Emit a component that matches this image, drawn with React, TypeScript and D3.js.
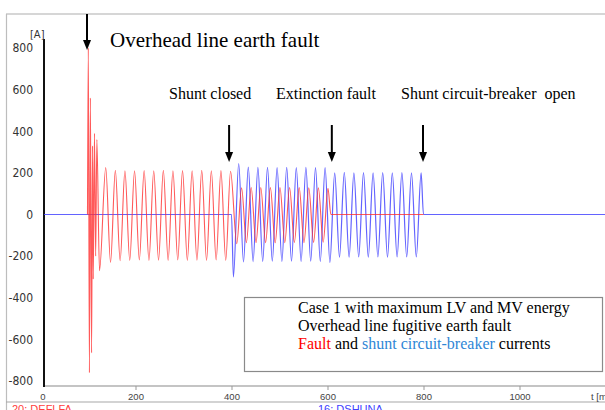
import React, { useEffect, useRef } from 'react';
import * as d3 from 'd3';

const WIDTH = 605;
const HEIGHT = 410;
const HALF_PERIOD = 10; // ms, 50 Hz network

const yTicks = [800, 600, 400, 200, 0, -200, -400, -600, -800];
const xTicks = [200, 400, 600, 800, 1000];

// Fault current (red): onset transient, read point by point [t ms, A]
const faultOnset: [number, number][] = [
  [100, 0], [101.7, 800], [104, -760], [106, 560], [108.5, -665], [110.5, 330],
  [112, -310], [114.5, 390], [117, -200], [119.5, 360], [125, -270],
];
// successive half-wave extrema, one every 10 ms
const faultStart = 138;
const faultExtrema = [
  225, -230, 212, -222, 210, -220, 210, -218, 211, -220, 210, -219, 212, -220,
  210, -218, 211, -220, 210, -219, 212, -220, 210, -218, 211, -220, 208,
];
const faultShuntStart = 411;
const faultShuntExtrema = [
  -140, 128, -135, 130, -136, 130, -135, 129, -136, 130,
  -135, 130, -134, 129, -135, 128, -134, 128, -133, 126,
];
const faultTail: [number, number][] = [[607, 0], [800, 0]];

// Shunt circuit-breaker current (blue)
const shuntOnset: [number, number][] = [[0, 0], [400, 0], [404, -300]];
const shuntStart = 415;
const shuntExtrema = [
  245, -228, 228, -226, 226, -225, 226, -224, 225, -225,
  226, -224, 225, -225, 226, -224, 225, -225, 225, -230,
];
const shuntFreeStart = 615;
const shuntFreeExtrema = [
  200, -205, 202, -205, 200, -204, 201, -205, 200, -204,
  201, -205, 200, -204, 201, -204, 200, -204, 200,
];
const shuntTail: [number, number][] = [[800, 0], [1200, 0]];

const events = [
  { t: 99, label: 'Overhead line earth fault' },
  { t: 395, label: 'Shunt closed' },
  { t: 609, label: 'Extinction fault' },
  { t: 799, label: 'Shunt circuit-breaker  open' },
];

const extrema = (start: number, vals: number[]): [number, number][] =>
  vals.map((v, i) => [start + i * HALF_PERIOD, v]);

const App: React.FC = () => {
  const svgRef = useRef<SVGSVGElement>(null);

  useEffect(() => {
    if (!svgRef.current) return;
    const svg = d3.select(svgRef.current);
    svg.selectAll('*').remove();

    const serif = '"Liberation Serif", "Times New Roman", serif';
    const narrow = '"Liberation Sans Narrow", "Arial Narrow", "DejaVu Sans Condensed", sans-serif';
    const sans = '"Liberation Sans", Arial, sans-serif';

    const x = d3.scaleLinear().domain([0, 1000]).range([39.5, 519.5]);
    const y = d3.scaleLinear().domain([-800, 800]).range([381, 48]);
    const x0 = 44;
    const yBottom = 386;

    svg.append('rect').attr('width', WIDTH).attr('height', HEIGHT).attr('fill', 'white');

    // outer frame of the recorder window
    svg.append('line').attr('x1', 6).attr('x2', WIDTH).attr('y1', 14).attr('y2', 14)
      .attr('stroke', '#c8c8c8').attr('stroke-width', 1.5);
    svg.append('line').attr('x1', 6.5).attr('x2', 6.5).attr('y1', 14).attr('y2', HEIGHT)
      .attr('stroke', '#bdbdbd').attr('stroke-width', 1.2);
    svg.append('line').attr('x1', 6).attr('x2', WIDTH).attr('y1', 402).attr('y2', 402)
      .attr('stroke', '#a8a8a8').attr('stroke-width', 1.2);

    // x axis
    svg.append('line').attr('x1', x0).attr('x2', WIDTH).attr('y1', yBottom).attr('y2', yBottom)
      .attr('stroke', '#8a8a8a').attr('stroke-width', 1.2);
    const xAxis = svg.append('g').attr('transform', `translate(0,${yBottom})`)
      .call(d3.axisBottom(x).tickValues(xTicks).tickFormat(d => String(d))
        .tickSize(4).tickSizeOuter(0).tickPadding(3));
    xAxis.select('.domain').remove();
    xAxis.selectAll('line').attr('stroke', '#999');
    xAxis.selectAll('text').attr('fill', '#444').style('font-family', sans).style('font-size', '9.5px');
    svg.append('text').attr('x', x0 - 1).attr('y', 400).attr('text-anchor', 'middle')
      .attr('fill', '#444').style('font-family', sans).style('font-size', '9.5px').text('0');
    svg.append('text').attr('x', 591).attr('y', 400).attr('fill', '#444')
      .style('font-family', sans).style('font-size', '9.5px').text('t [ms]');

    // y axis
    const yAxis = svg.append('g').attr('transform', `translate(${x0},0)`)
      .call(d3.axisLeft(y).tickValues(yTicks).tickFormat(d => String(d)).tickSize(0).tickPadding(11));
    yAxis.select('.domain').remove();
    yAxis.selectAll('text').attr('fill', '#333').style('font-family', narrow)
      .style('font-size', '12px');
    svg.append('line').attr('x1', x0).attr('x2', x0).attr('y1', 39).attr('y2', yBottom + 1)
      .attr('stroke', '#111').attr('stroke-width', 2);
    svg.append('text').attr('x', 30).attr('y', 38).attr('fill', '#333')
      .style('font-family', narrow).style('font-size', '11px').text('[A]');

    const line = d3.line<[number, number]>()
      .x(d => x(d[0])).y(d => y(d[1]))
      .curve(d3.curveMonotoneX);

    const shunt = [
      ...shuntOnset,
      ...extrema(shuntStart, shuntExtrema),
      ...extrema(shuntFreeStart, shuntFreeExtrema),
      ...shuntTail,
    ];
    const fault = [
      ...faultOnset,
      ...extrema(faultStart, faultExtrema),
      ...extrema(faultShuntStart, faultShuntExtrema),
      ...faultTail,
    ];

    const plot = svg.append('g');
    plot.append('defs').append('clipPath').attr('id', 'plotClip')
      .append('rect').attr('x', x0).attr('y', 15).attr('width', WIDTH - x0).attr('height', yBottom - 15);
    const lines = plot.append('g').attr('clip-path', 'url(#plotClip)');
    lines.append('path').datum(shunt).attr('d', line).attr('fill', 'none')
      .attr('stroke', '#4848ff').attr('stroke-width', 1.2).attr('opacity', 0.85);
    lines.append('path').datum(fault).attr('d', line).attr('fill', 'none')
      .attr('stroke', '#ff3030').attr('stroke-width', 1.1).attr('opacity', 0.8);

    // event arrows and captions
    const arrow = (t: number, top: number, tip: number) => {
      const ax = x(t);
      svg.append('line').attr('x1', ax).attr('x2', ax).attr('y1', top).attr('y2', tip - 8)
        .attr('stroke', '#000').attr('stroke-width', 2);
      svg.append('path')
        .attr('d', `M${ax - 4},${tip - 10}L${ax + 4},${tip - 10}L${ax},${tip}Z`)
        .attr('fill', '#000');
    };
    arrow(events[0].t, 14, 50);
    events.slice(1).forEach(e => arrow(e.t, 125, 162));

    svg.append('text').attr('x', 110).attr('y', 47).style('font-family', serif)
      .style('font-size', '21px').attr('fill', '#000').text(events[0].label);
    const captionX = [169, 276, 401];
    events.slice(1).forEach((e, i) => {
      svg.append('text').attr('x', captionX[i]).attr('y', 99).style('font-family', serif)
        .style('font-size', '16px').style('white-space', 'pre').attr('fill', '#000').text(e.label);
    });

    // description box
    svg.append('rect').attr('x', 244.5).attr('y', 297.5).attr('width', 358).attr('height', 74)
      .attr('fill', 'white').attr('stroke', '#8a8a8a').attr('stroke-width', 1.2);
    const note = svg.append('g').style('font-family', serif).style('font-size', '16px');
    note.append('text').attr('x', 298).attr('y', 313).text('Case 1 with maximum LV and MV energy');
    note.append('text').attr('x', 298).attr('y', 331).text('Overhead line fugitive earth fault');
    const l3 = note.append('text').attr('x', 298).attr('y', 349);
    l3.append('tspan').attr('fill', '#ff0000').text('Fault');
    l3.append('tspan').attr('fill', '#000').text(' and ');
    l3.append('tspan').attr('fill', '#2e86d6').text('shunt circuit-breaker');
    l3.append('tspan').attr('fill', '#000').text(' currents');

    // channel names under the frame
    svg.append('text').attr('x', 12).attr('y', 413).attr('fill', '#ff4040')
      .style('font-family', sans).style('font-size', '11px').text('20: DEFLFA -');
    svg.append('text').attr('x', 318).attr('y', 413).attr('fill', '#4040ff')
      .style('font-family', sans).style('font-size', '11px').text('16: DSHUNA -');
  }, []);

  return (
    <div style={{ position: 'absolute', left: 0, top: 0 }}>
      <svg ref={svgRef} width={WIDTH} height={HEIGHT} style={{ display: 'block' }} />
    </div>
  );
};

export default App;
